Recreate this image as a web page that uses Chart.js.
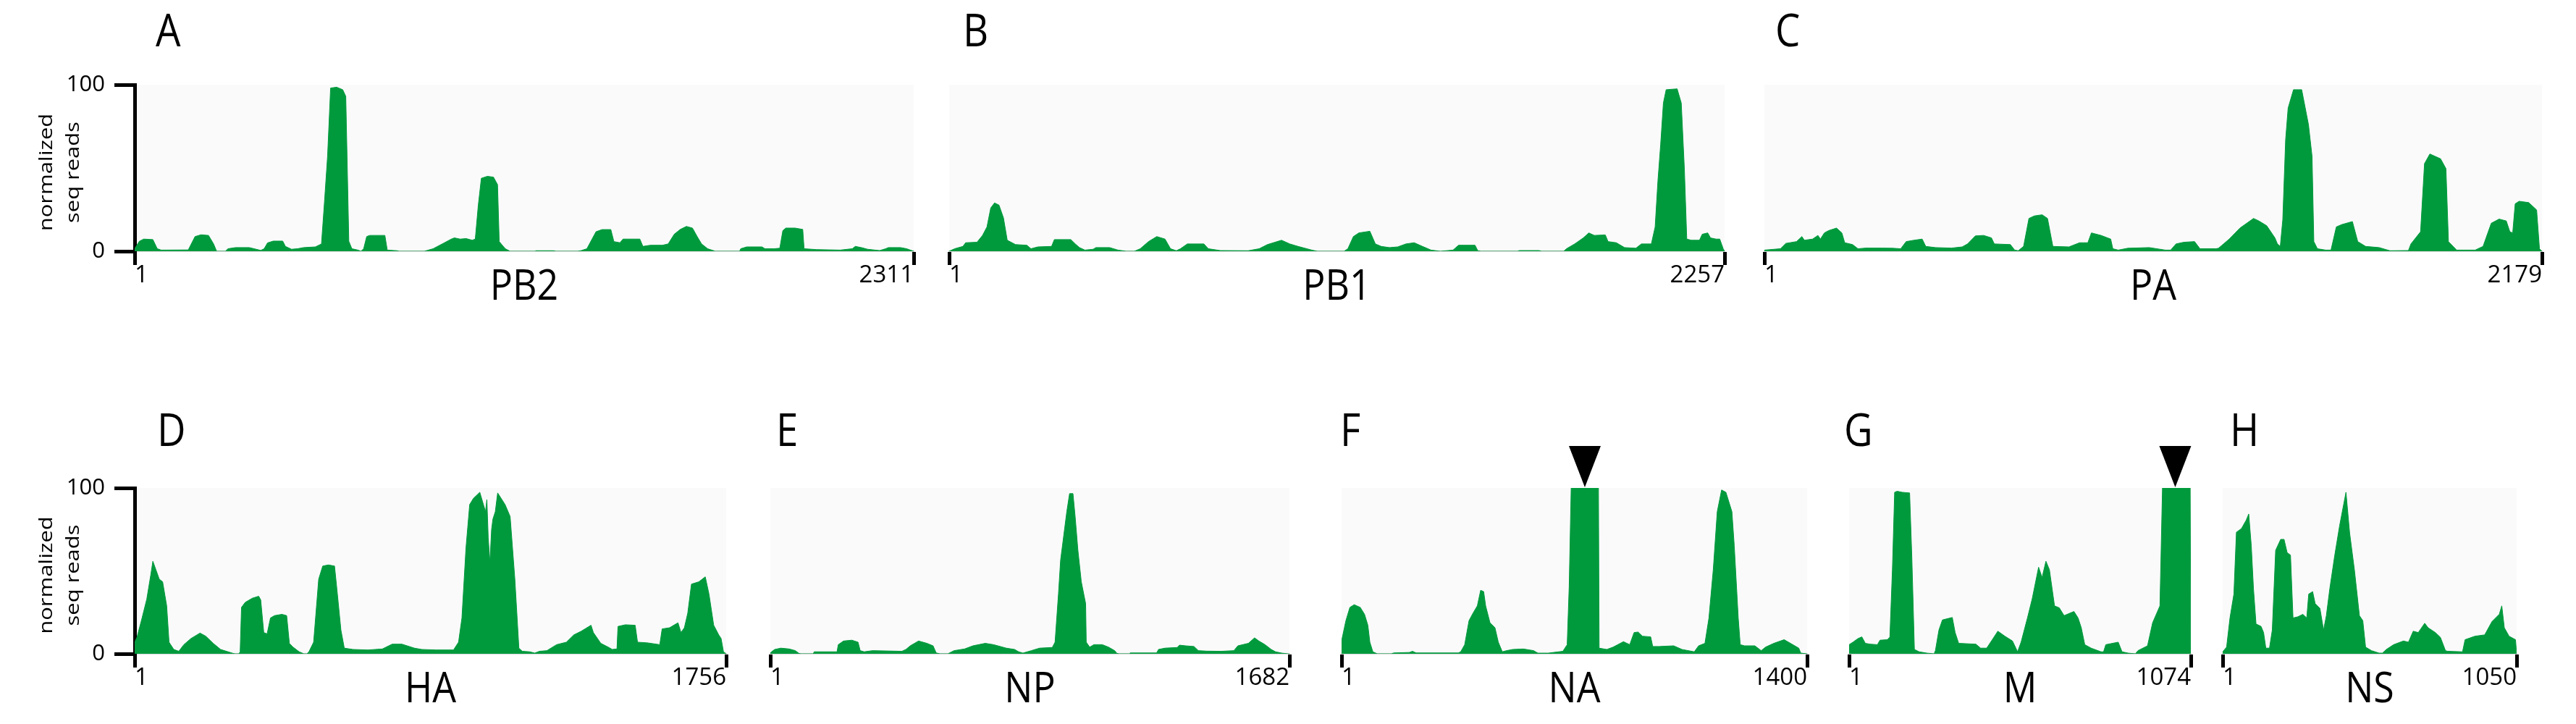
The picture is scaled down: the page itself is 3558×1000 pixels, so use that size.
<!DOCTYPE html>
<html><head><meta charset="utf-8">
<script src="https://cdn.jsdelivr.net/npm/chart.js@4.4.1/dist/chart.umd.min.js"></script>
<style>
html,body{margin:0;padding:0;background:#fff;width:3558px;height:1000px;overflow:hidden}
#wrap{position:relative;width:3558px;height:1000px}
canvas{position:absolute}
</style></head><body>
<div id="wrap"></div>
<script>
// ---------------- DATA (nucleotide position, normalized reads) ----------------
const LETTERS  = ['A','B','C','D','E','F','G','H'];
const SEGMENTS = ['PB2','PB1','PA','HA','NP','NA','M','NS'];
const LENGTHS  = [2311,2257,2179,1756,1682,1400,1074,1050];
const Y_TICKS  = [0,100];
const Y_TITLE  = ['normalized','seq reads'];
const MARKERS  = {NA:732, M:1025};   // arrowhead positions (nt)

const PB2_COV = [[1,1.5],[15,6],[28,7.3],[55,7],[68,1.5],[80,0.7],[160,0.8],[180,8.8],[198,9.9],[220,9.5],[235,4.4],[244,0],[270,0],[278,1.5],[300,2.2],[341,2.2],[375,0.5],[385,1.5],[395,5],[412,6.1],[440,6.1],[448,2.9],[466,1.2],[484,1.5],[502,2.2],[537,2.6],[555,4.4],[564,30],[573,57],[582,98],[600,98.5],[618,97],[627,93],[636,6],[645,1.5],[663,0.7],[672,0],[680,1.5],[689,8.8],[698,9.5],[743,9.5],[750,0.7],[779,0.3],[785,0],[860,0],[886,1.5],[913,4.4],[940,7.3],[949,8],[966,7.3],[984,7.6],[1002,6.6],[1011,7.3],[1020,27.7],[1029,43.8],[1047,45],[1065,44.5],[1077,40],[1082,5.8],[1100,1.5],[1114,0],[1189,0],[1190,0.3],[1243,0.3],[1250,0],[1315,0],[1324,0.3],[1342,1.5],[1369,11.7],[1387,13],[1413,13],[1422,5.8],[1440,5.1],[1449,7.3],[1467,7.3],[1499,7.3],[1508,2.9],[1530,3.6],[1566,3.6],[1583,4.4],[1601,10.2],[1619,13.1],[1637,14.9],[1655,13.9],[1669,8.8],[1682,4.4],[1700,1.5],[1718,0.3],[1722,0],[1795,0],[1798,1.5],[1816,2.6],[1861,2.6],[1870,1.5],[1897,1.5],[1914,1.8],[1923,12.4],[1932,13.9],[1959,13.9],[1982,13.1],[1986,1.5],[2022,1],[2093,0.7],[2129,1.5],[2138,2.9],[2156,2.2],[2174,1.2],[2210,0.4],[2228,1.5],[2236,2.2],[2272,2.2],[2290,1.5],[2311,0]];

const PB1_COV = [[1,0],[17,1.5],[41,2.9],[49,5.1],[82,5.4],[98,9.5],[111,14.6],[122,26],[133,29],[146,27.7],[159,20],[170,6.6],[194,4],[227,3.6],[239,1.5],[259,2.6],[299,2.9],[307,7],[355,7],[368,4.4],[380,2.2],[396,0.7],[420,1.2],[428,2.2],[468,2.2],[492,0.7],[516,0],[540,0],[557,1.5],[581,5.8],[605,8.8],[629,7.3],[645,1.5],[662,0.3],[674,1.5],[694,4.4],[742,4.4],[755,1.5],[790,0.4],[871,0.3],[903,1.5],[927,4],[968,6.6],[992,4.4],[1016,2.9],[1056,0.7],[1072,0],[1150,0],[1161,1.5],[1177,8.8],[1193,11],[1225,12],[1241,4.4],[1258,2.9],[1282,2.2],[1306,2.6],[1330,4.4],[1354,5.1],[1378,2.9],[1403,0.7],[1430,0],[1467,0.7],[1483,3.6],[1531,3.6],[1539,0.3],[1548,0],[1655,0],[1660,0.4],[1717,0.4],[1725,0],[1789,0],[1797,1.5],[1821,4.4],[1846,8],[1862,11],[1878,9.5],[1910,9.8],[1918,5.8],[1942,5.1],[1966,2.2],[1999,1.8],[2015,4.4],[2044,4.4],[2055,14.6],[2063,42],[2071,64],[2079,89],[2087,97],[2119,97.5],[2131,89],[2140,49.6],[2147,7.3],[2160,6.6],[2184,6.6],[2192,10.2],[2208,11],[2216,8],[2232,7.3],[2243,7.3],[2253,1.5],[2257,0]];

const PA_COV = [[1,0.7],[46,1.5],[61,4.7],[91,5.8],[106,8.8],[113,6.6],[136,7.3],[151,9.5],[158,7.3],[169,11],[181,12.4],[203,13.9],[218,11],[226,5.1],[248,4],[263,1.5],[285,1.9],[330,1.9],[360,1.8],[383,1.5],[398,5.8],[420,6.6],[443,7.3],[453,2.9],[480,2.2],[525,1.9],[555,2.6],[570,4.4],[592,9.2],[615,9.5],[637,8],[645,4.4],[690,4],[702,0.7],[712,0.3],[727,2.9],[742,19.7],[757,21.2],[779,21.9],[794,19.7],[809,2.9],[854,2.6],[884,5.1],[907,5.1],[917,11],[944,9.5],[971,7.3],[977,1.5],[992,0.7],[1019,1.8],[1079,2.2],[1124,0.7],[1139,0.7],[1154,4.4],[1176,5.4],[1206,5.8],[1221,1.5],[1266,1.5],[1273,1.8],[1303,7.3],[1333,13.9],[1371,19.7],[1386,18.2],[1408,15.3],[1431,8],[1438,4.4],[1446,2.9],[1453,19],[1461,67],[1468,86],[1483,97],[1506,97],[1525,76],[1535,57],[1540,5.8],[1550,1.5],[1573,0.7],[1588,0.7],[1603,14.6],[1618,16],[1648,17.8],[1663,5.8],[1685,2.9],[1723,2.2],[1753,0.3],[1805,0.4],[1812,4.4],[1839,11.7],[1850,52.6],[1865,58.4],[1895,55.5],[1910,49.6],[1917,5.8],[1940,0.7],[1992,0.7],[2014,2.9],[2037,16.8],[2059,19.3],[2079,18.2],[2089,11.7],[2097,11],[2104,28.5],[2115,30],[2142,29.2],[2164,24.8],[2172,1.5],[2179,0]];

const HA_COV = [[1,7],[8,10],[23,21.6],[37,33],[49,47.8],[55,55.8],[64,50.7],[74,45],[84,43.4],[96,28.9],[103,7],[117,2.6],[132,1.5],[147,5.5],[168,9.2],[195,12.5],[212,10.6],[234,6.3],[256,2.6],[278,1.2],[292,0.3],[299,0],[310,0],[314,1.2],[318,28],[329,31],[350,33.5],[369,34.7],[375,32.5],[384,12.8],[394,12],[404,21.6],[416,23],[438,23.8],[452,23],[460,6.3],[471,4],[489,1.2],[503,0],[512,0],[518,1.2],[532,7],[547,45],[559,52.9],[576,53.6],[594,52.9],[601,39],[613,14.3],[623,3.4],[649,2.6],[693,2.3],[736,2.9],[765,5.8],[794,5.8],[831,3.4],[853,2.6],[896,2.3],[947,2.3],[962,7],[972,21.6],[984,63.8],[995,90],[1006,93.7],[1025,97.4],[1042,85.7],[1046,93],[1050,70],[1055,55],[1060,75],[1064,81.3],[1071,85.7],[1078,97],[1100,90],[1115,82.8],[1129,45],[1141,3.4],[1151,1.5],[1173,1.2],[1188,0.4],[1202,1.5],[1224,1.9],[1253,5.5],[1282,7],[1304,11.4],[1326,13.6],[1355,17.2],[1362,12.8],[1384,6.3],[1406,4],[1418,2.6],[1432,2.9],[1435,16.5],[1457,17.5],[1486,17.2],[1493,7],[1522,6.6],[1559,5.5],[1566,15],[1588,15.7],[1613,18.7],[1622,12.8],[1632,15.7],[1642,24.5],[1653,42],[1675,43.4],[1694,46.4],[1705,36],[1719,17.2],[1734,11.4],[1741,9.2],[1748,1.2],[1756,0]];

const NP_COV = [[1,0.5],[5,1.2],[15,2.6],[35,3.4],[62,2.9],[82,1.9],[93,0.3],[100,0],[140,0],[143,1.2],[217,1.2],[221,5.5],[238,7.7],[265,8.2],[285,7],[292,1.9],[305,1.2],[332,1.9],[427,1.5],[440,2.6],[454,4.8],[481,7.7],[508,6.3],[528,4.8],[538,0.5],[550,0],[576,0],[596,1.9],[630,2.9],[657,4.8],[697,6.3],[724,5.5],[765,3.4],[792,2.6],[805,1.2],[819,0.4],[846,1.9],[873,3.4],[914,3.8],[923,7],[934,36],[941,56.6],[954,75.5],[961,85.7],[970,96.6],[981,96.6],[988,82.8],[997,62.4],[1008,43.4],[1022,30.3],[1024,7],[1035,4],[1049,5.5],[1076,5.5],[1096,4],[1116,1.9],[1123,0.3],[1130,0],[1164,0],[1166,0.5],[1252,0.5],[1258,2.6],[1279,3.4],[1319,3.8],[1326,5.2],[1346,4.8],[1373,4.4],[1387,1.9],[1414,1.6],[1461,1.5],[1502,1.9],[1515,4.8],[1549,6.3],[1569,9.6],[1583,7.7],[1603,5.5],[1623,2.6],[1637,1.2],[1657,0.4],[1677,0],[1682,0]];

const NA_COV = [[1,7.7],[14,20],[26,28],[39,29.6],[57,28],[70,23.8],[80,17.2],[86,7],[95,1.2],[108,0],[150,0],[158,0.5],[205,0.8],[214,1.5],[225,0.5],[352,0.5],[359,1.2],[371,5.5],[384,20],[396,24.5],[409,28.9],[419,38.3],[428,37.5],[434,28.9],[447,18.7],[462,15.7],[472,7],[484,1.2],[497,1.9],[515,2.6],[547,2.9],[578,1.9],[591,0.4],[622,0.4],[666,1.5],[679,5.5],[685,40.5],[691,100],[773,100],[775,3.4],[798,2.6],[817,4],[848,7.3],[867,5.5],[880,12.8],[892,13.1],[905,10.6],[930,10.2],[936,4.4],[955,4.4],[999,4.8],[1024,2.6],[1061,1.2],[1074,4.8],[1093,6.3],[1105,21.6],[1118,50.7],[1130,85.7],[1143,98.8],[1156,97.4],[1174,85.7],[1181,65.3],[1193,21.6],[1199,5.5],[1212,4.8],[1243,4.8],[1262,1.9],[1275,4],[1300,6.3],[1331,8.5],[1350,6.3],[1375,3.4],[1381,0.4],[1400,0]];

const M_COV = [[1,5.5],[13,7],[29,9.2],[41,10.2],[52,6.3],[67,5.8],[90,5.5],[98,8.2],[121,8.5],[129,10],[137,50.7],[144,97.4],[152,98],[168,97.4],[191,97],[198,58],[206,2.6],[221,1.2],[245,0.4],[268,0],[272,1.9],[283,14.3],[294,20.4],[325,21.9],[334,12.8],[345,6.3],[399,5.8],[414,3.4],[433,3.4],[453,9.2],[468,13.6],[491,10.5],[514,7.7],[530,1.2],[541,7],[561,21.6],[576,33.2],[596,52.2],[607,46],[619,55.8],[630,50.7],[646,28.9],[661,27.7],[676,23],[707,25.5],[720,21.6],[730,15.7],[741,5.5],[761,3.4],[792,1.2],[800,1.2],[807,5.5],[846,7],[858,1.2],[877,0.4],[900,0],[908,1.9],[938,4.8],[954,18.7],[977,28.9],[985,100],[1072,100],[1074,0]];

const NS_COV = [[1,1.2],[15,4],[27,21.6],[41,36],[50,73.3],[68,75.5],[85,80.6],[94,84.3],[103,65.3],[111,39],[120,18],[138,16.5],[147,12.8],[155,3.4],[168,3.4],[178,14.3],[190,62.4],[208,69],[220,69],[231,61],[243,59.5],[252,21.6],[269,22.3],[287,23.8],[301,21.6],[308,36],[322,37.5],[331,30.3],[348,27.4],[361,14.3],[371,23],[383,39],[401,59.5],[418,77],[441,97.4],[454,72.9],[471,50.7],[489,23],[501,20],[511,4],[532,1.9],[559,0.4],[571,0.4],[585,2.6],[611,5.5],[646,7.7],[664,7],[681,13.6],[699,12.8],[722,18.4],[734,15.7],[760,12.8],[778,9.9],[796,1.9],[804,1.5],[857,1.2],[866,8.5],[901,10.6],[936,11.4],[962,19.4],[988,23.8],[997,28.9],[1006,15.7],[1023,10.6],[1046,8.5],[1050,0]];

const COVERAGE = [PB2_COV, PB1_COV, PA_COV, HA_COV, NP_COV, NA_COV, M_COV, NS_COV];

// ---------------- LAYOUT / STYLE ----------------
// plot boxes in page pixels: [left, right, top, bottom]
const BOXES = [
  [186,1262,117,347],[1311,2382,117,347],[2437,3511,117,347],
  [186,1003,674,903],[1064,1781,674,903],[1853,2496,674,903],[2554,3026,674,903],[3070,3476,674,903]
];
const LETTER_DX = [29,19,15,31,8,-2,-7,10];
const LETTER_RISE = [53,53,53,58,58,58,58,58];
const GREEN = '#009a3d';
const PLOT_BG = '#fafafa';
const FONT = "'Open Sans',sans-serif";
const TOP = 110, BOT = 90, SIDE = 24, YW = 140;
const SQUEEZE = 0.88;   // horizontal squeeze of the panel texts

const panelPlugin = {
  id: 'panel',
  beforeDraw(chart, args, o) {
    const {ctx, chartArea: a} = chart;
    ctx.save();
    ctx.fillStyle = PLOT_BG;
    ctx.fillRect(a.left, a.top, a.right - a.left, a.bottom - a.top);
    ctx.restore();
  },
  afterDraw(chart, args, o) {
    const {ctx, chartArea: a} = chart;
    ctx.save();
    ctx.fillStyle = '#000';
    ctx.textBaseline = 'alphabetic';
    // panel letter
    ctx.save();
    ctx.translate(a.left + o.letterDx, a.top - o.letterRise);
    ctx.scale(SQUEEZE, 1);
    ctx.font = '62px ' + FONT;
    ctx.textAlign = 'left';
    ctx.fillText(o.letter, 0, 0);
    ctx.restore();
    // segment name
    ctx.save();
    ctx.translate((a.left + a.right) / 2, a.bottom + 67);
    ctx.scale(SQUEEZE, 1);
    ctx.font = '59px ' + FONT;
    ctx.textAlign = 'center';
    ctx.fillText(o.name, 0, 0);
    ctx.restore();
    if (o.yTitle) {
      const cy = (a.top + a.bottom) / 2 + 6;
      const xs = [a.left - 114, a.left - 77];
      ctx.font = '26px ' + FONT;
      ctx.textAlign = 'center';
      o.yTitle.forEach((t, k) => {
        ctx.save();
        ctx.translate(xs[k], cy);
        ctx.rotate(-Math.PI / 2);
        ctx.scale(1.19, 1);
        ctx.fillText(t, 0, 0);
        ctx.restore();
      });
    }
    if (o.marker) {
      const x = chart.scales.x.getPixelForValue(o.marker);
      ctx.beginPath();
      ctx.moveTo(x - 22, a.top - 58);
      ctx.lineTo(x + 22, a.top - 58);
      ctx.lineTo(x, a.top - 1);
      ctx.closePath();
      ctx.fill();
    }
    ctx.restore();
  }
};

const wrap = document.getElementById('wrap');
SEGMENTS.forEach((name, i) => {
  const [L, R, T, B] = BOXES[i];
  const hasY = (i === 0 || i === 3);
  const N = LENGTHS[i];
  const cx = hasY ? 0 : L - SIDE;
  const cy = T - TOP;
  const w = R + SIDE - cx;
  const h = (B - T) + TOP + BOT;
  const cv = document.createElement('canvas');
  cv.width = w; cv.height = h;
  cv.style.left = cx + 'px'; cv.style.top = cy + 'px';
  cv.style.width = w + 'px'; cv.style.height = h + 'px';
  wrap.appendChild(cv);
  new Chart(cv.getContext('2d'), {
    type: 'line',
    data: { datasets: [{
      data: COVERAGE[i].map(([x, y]) => ({x, y})),
      fill: 'origin', backgroundColor: GREEN, borderColor: GREEN, borderWidth: 1,
      pointRadius: 0, tension: 0
    }]},
    options: {
      responsive: false, animation: false, devicePixelRatio: 1,
      layout: { padding: { left: hasY ? (L - cx - YW) : SIDE, right: SIDE, top: TOP, bottom: 0 } },
      scales: {
        x: {
          type: 'linear', min: 1, max: N,
          afterBuildTicks: s => { s.ticks = [{value: 1}, {value: N}]; },
          afterFit: s => { s.height = BOT; },
          ticks: { callback: v => String(v), align: 'inner', maxRotation: 0, autoSkip: false,
                   padding: -5, color: '#000', font: { family: FONT, size: 33 } },
          grid: { display: true, drawOnChartArea: false, drawTicks: true,
                  tickLength: 19, tickWidth: 5, tickColor: '#000' },
          border: { display: true, color: '#d9d9d9', width: 2 }
        },
        y: {
          display: hasY, min: 0, max: 100, z: 1,
          afterBuildTicks: s => { s.ticks = Y_TICKS.map(v => ({value: v})); },
          afterFit: s => { s.width = hasY ? YW : 0; },
          ticks: { callback: v => String(v), padding: 13, color: '#000', font: { family: FONT, size: 31 } },
          grid: { display: true, drawOnChartArea: false, drawTicks: true,
                  tickLength: 28, tickWidth: 5, tickColor: '#000' },
          border: { display: true, color: '#000', width: 5 }
        }
      },
      plugins: {
        legend: { display: false }, tooltip: { enabled: false },
        panel: { letter: LETTERS[i], letterDx: LETTER_DX[i], letterRise: LETTER_RISE[i], name: name,
                 yTitle: hasY ? Y_TITLE : null, marker: MARKERS[name] || null }
      }
    },
    plugins: [panelPlugin]
  });
});
</script>
</body></html>
